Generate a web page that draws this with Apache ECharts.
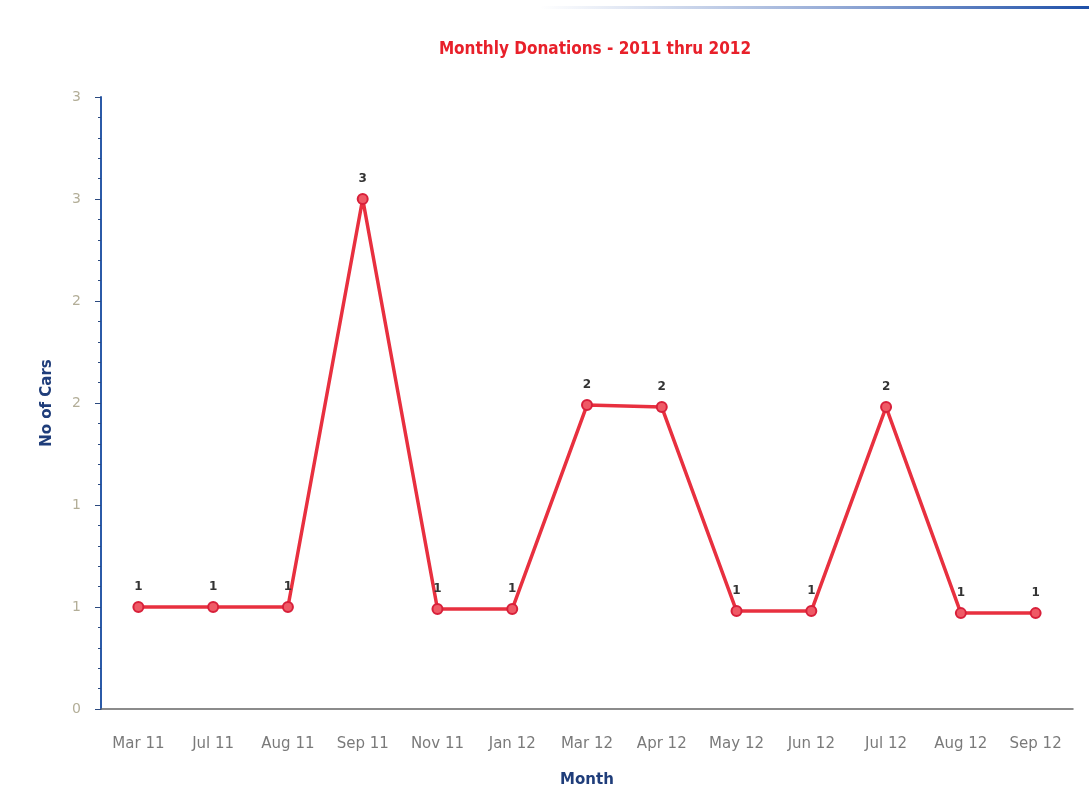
<!DOCTYPE html>
<html>
<head>
<meta charset="utf-8">
<script src="https://cdn.jsdelivr.net/npm/echarts@6/dist/echarts.min.js"></script>
<style>
  html, body { margin: 0; padding: 0; background: #fff; }
  #main { width: 1089px; height: 812px; }
</style>
</head>
<body>
<div id="main"></div>
<script>
// months on the x axis
var months = ['Mar 11', 'Jul 11', 'Aug 11', 'Sep 11', 'Nov 11', 'Jan 12', 'Mar 12',
              'Apr 12', 'May 12', 'Jun 12', 'Jul 12', 'Aug 12', 'Sep 12'];
// label shown above each point (no of cars)
var cars = [1, 1, 1, 3, 1, 1, 2, 2, 1, 1, 2, 1, 1];
// where each point sits against the y axis
var plotted = [0.5, 0.5, 0.5, 2.5, 0.49, 0.49, 1.49, 1.48, 0.48, 0.48, 1.48, 0.47, 0.47];
// y tick values, labels are rounded like the original
var yTicks = [0, 0.5, 1, 1.5, 2, 2.5, 3];

var chart = echarts.init(document.getElementById('main'));

chart.setOption({
  backgroundColor: '#fff',
  animation: false,
  title: {
    text: 'Monthly Donations - 2011 thru 2012',
    left: 590,
    textAlign: 'center',
    top: 36,
    textStyle: { color: '#e8202a', fontSize: 17, fontWeight: 'bold', fontFamily: 'DejaVu Sans Condensed, DejaVu Sans' }
  },
  graphic: [{
    type: 'rect',
    shape: { x: 540, y: 6, width: 549, height: 3 },
    style: {
      fill: new echarts.graphic.LinearGradient(0, 0, 1, 0, [
        { offset: 0, color: 'rgba(60,100,180,0)' },
        { offset: 0.5, color: 'rgba(60,100,180,0.5)' },
        { offset: 1, color: '#1d4fa8' }
      ])
    }
  }],
  grid: { left: 101, right: 16, top: 97, bottom: 103 },
  xAxis: {
    type: 'category',
    data: months,
    boundaryGap: true,
    name: 'Month',
    nameLocation: 'middle',
    nameGap: 64,
    nameTextStyle: { color: '#1f3d7a', fontSize: 15, fontWeight: 'bold', fontFamily: 'DejaVu Sans' },
    axisLine: { lineStyle: { color: '#666', width: 1.5 } },
    axisTick: { alignWithLabel: true, length: 6, lineStyle: { color: '#555' } },
    axisLabel: { color: '#7a7a7a', fontSize: 15, margin: 28, fontFamily: 'DejaVu Sans' },
    splitLine: { show: false }
  },
  yAxis: {
    type: 'value',
    min: 0,
    max: 3,
    interval: 0.5,
    name: 'No of Cars',
    nameLocation: 'middle',
    nameGap: 46,
    nameTextStyle: { color: '#1f3d7a', fontSize: 15, fontWeight: 'bold', fontFamily: 'DejaVu Sans' },
    axisLine: { show: true, lineStyle: { color: '#2b5aa8', width: 2 } },
    axisTick: { show: true, length: 6, lineStyle: { color: '#2b4a80' } },
    minorTick: { show: true, splitNumber: 5, length: 3, lineStyle: { color: '#2b4a80' } },
    axisLabel: {
      color: '#b3ae98', fontSize: 14, margin: 20, fontFamily: 'DejaVu Sans',
      formatter: function (v) { return yTicks.indexOf(v) >= 0 ? String(Math.round(v)) : ''; }
    },
    splitLine: { show: false }
  },
  series: [{
    type: 'line',
    data: plotted,
    symbol: 'circle',
    symbolSize: 10,
    lineStyle: { color: '#e8303f', width: 3.5 },
    itemStyle: { color: '#ef5a66', borderColor: '#d8203a', borderWidth: 2 },
    label: {
      show: true,
      position: 'top',
      distance: 8,
      color: '#333',
      fontSize: 12,
      fontWeight: 'bold',
      fontFamily: 'DejaVu Sans',
      formatter: function (p) { return String(cars[p.dataIndex]); }
    }
  }]
});
</script>
</body>
</html>
